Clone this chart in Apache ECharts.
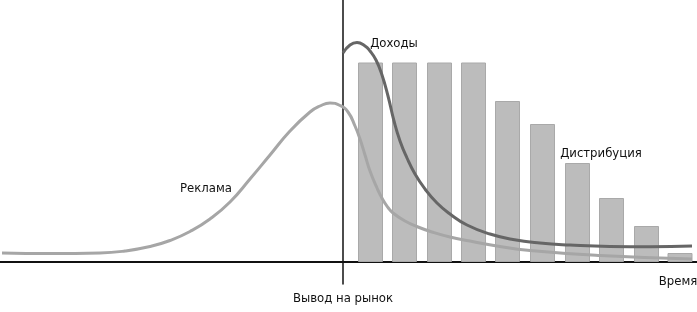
<!DOCTYPE html>
<html><head><meta charset="utf-8">
<script src="https://cdn.jsdelivr.net/npm/echarts@6/dist/echarts.min.js"></script>
<style>html,body{margin:0;padding:0;background:#fff}#c{width:697px;height:312px}</style>
</head><body><div id="c"></div>
<script>
// time relative to launch (0 = "Вывод на рынок"), arbitrary units
const barTimes = [27.5, 61.5, 96.5, 130.5, 164.5, 199.5, 234.5, 268.5, 303.5, 337];
const distribution = [199.5, 199.5, 199.5, 199.5, 161, 138, 99, 64, 36, 9];
const advertising = [[-341,9],[-293,8.5],[-243,9],[-218,11],[-193,15.5],[-173,21.5],[-153,30.5],[-133,43],[-113,60],[-93,83],[-73,107],[-53,131],[-33,150],[-23,156],[-13,159],[-3,156.5],[5,150],[12,136],[17,123],[22,107],[27,91],[34,74],[40,62],[45,54.5],[50,49],[62,41],[75,35],[89,30],[107,25],[127,21],[154,16],[187,11.5],[257,6.5],[349,3]];
const revenue = [[0,209],[7,217],[14,219.5],[22,216],[27,211],[33,202],[39,187],[45,166],[51,141],[57,121],[64,104],[72,88],[82,73],[94,59],[107,48],[124,37],[147,28],[170,22.5],[197,19],[227,17],[267,15.5],[307,15.2],[349,16]];
const labels = {revenue:'Доходы', distribution:'Дистрибуция', advertising:'Реклама', launch:'Вывод на рынок', time:'Время'};

const FONT = "'Liberation Sans Narrow','DejaVu Sans Condensed',sans-serif";
const txt = {fontFamily: FONT, fontSize: 13, color: '#111'};
function note(text, coord){
  return {coord: coord, symbol: 'circle', symbolSize: 1, itemStyle:{color:'rgba(0,0,0,0)'},
    label: Object.assign({show:true, formatter:text, position:'inside', align:'center', verticalAlign:'middle'}, txt)};
}
const chart = echarts.init(document.getElementById('c'));
chart.setOption({
  animation: false,
  grid: {left: 0, right: 0, top: 0, bottom: 28},
  xAxis: {type:'value', min:-343, max:354,
    axisLine:{show:true, onZero:true, lineStyle:{color:'#111', width:2}},
    axisTick:{show:false}, axisLabel:{show:false}, splitLine:{show:false}},
  yAxis: {type:'value', min:-22, max:262,
    name: labels.launch, nameLocation:'start', nameGap:8,
    nameTextStyle: Object.assign({verticalAlign:'top'}, txt),
    axisLine:{show:true, onZero:true, lineStyle:{color:'#111', width:1.5}},
    axisTick:{show:false}, axisLabel:{show:false}, splitLine:{show:false}},
  series: [
    {type:'bar', barWidth:25, data: barTimes.map((t,i)=>[t, distribution[i]]),
     itemStyle:{color:'#bcbcbc', borderColor:'#a9a9a9', borderWidth:1}, z:1,
     markPoint:{silent:true, data:[note(labels.distribution,[258,108]), note(labels.time,[335,-20])]}},
    {type:'line', data: advertising, smooth:0.5, showSymbol:false, z:3,
     lineStyle:{color:'#a6a6a6', width:3},
     markPoint:{silent:true, data:[note(labels.advertising,[-137,73])]}},
    {type:'line', data: revenue, smooth:0.5, showSymbol:false, z:4,
     lineStyle:{color:'#666666', width:3},
     markPoint:{silent:true, data:[note(labels.revenue,[51,218])]}}
  ]
});
</script></body></html>
